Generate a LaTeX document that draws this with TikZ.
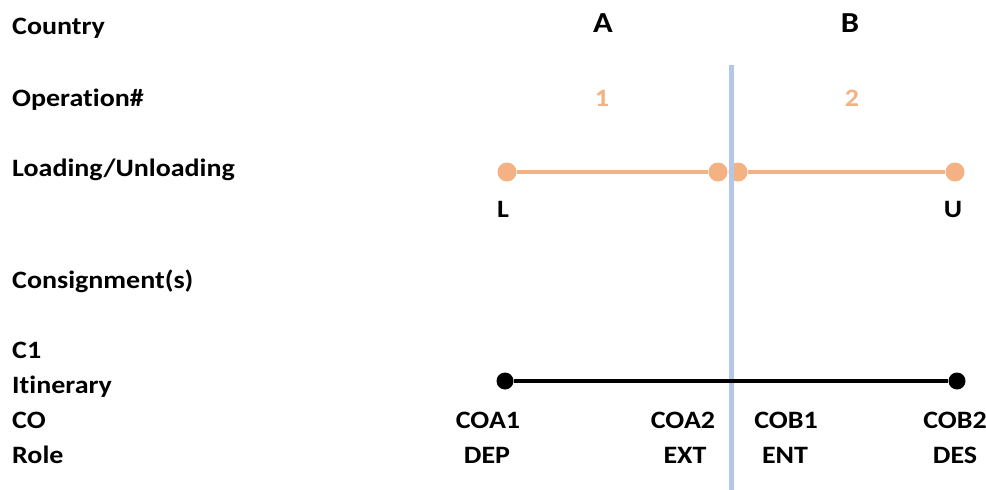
\documentclass[tikz,border=0pt]{standalone}
\usepackage{fontspec}
\setmainfont{Carlito}[FakeStretch=1.12,Ligatures=NoCommon]
\definecolor{orng}{HTML}{F4B183}
\definecolor{bluel}{HTML}{B4C7E7}
\begin{document}
\begin{tikzpicture}[x=1pt,y=-1pt,
  lab/.style={anchor=base west,inner sep=0pt,font=\fontsize{25}{29}\selectfont\bfseries},
  ctr/.style={anchor=base,inner sep=0pt,font=\fontsize{25}{29}\selectfont\bfseries},
  big/.style={anchor=base,inner sep=0pt,font=\fontsize{29}{33}\selectfont\bfseries},
  num/.style={anchor=base,inner sep=0pt,text=orng,font=\fontsize{25}{29}\selectfont\bfseries},
  odot/.style={circle,fill=orng,inner sep=0pt,minimum size=19pt},
  bdot/.style={circle,fill=black,inner sep=0pt,minimum size=17pt}]
\useasboundingbox (0,0) rectangle (986,490);
% row labels
\node[lab] (country) at (12,34) {Country};
\node[lab] (oper) at (12,106) {Operation\#};
\node[lab] (load) at (12,176) {Loading/Unloading};
\node[lab] (cons) at (12,288) {Consignment(s)};
\node[lab] (c1) at (12,358) {C1};
\node[lab] (itin) at (12,393) {Itinerary};
\node[lab] (co) at (12,428) {CO};
\node[lab] (role) at (12,463) {Role};
% countries
\node[big] (A) at (603,32) {A};
\node[big] (B) at (850,32) {B};
\node[num] (n1) at (602,106) {1};
\node[num] (n2) at (852,106) {2};
% loading line
\node[odot] (l1) at (507,172) {};
\node[odot] (l2) at (718,172) {};
\node[odot] (l3) at (738,172) {};
\node[odot] (l4) at (955,172) {};
\draw[orng,line width=4pt] (l1) -- (l2);
\draw[orng,line width=4pt] (l3) -- (l4);
\node[ctr] (L) at (503,217) {L};
\node[ctr] (U) at (953,217) {U};
% border
\coordinate (btop) at (731,65);
\coordinate (bbot) at (731,490);
\draw[bluel,line width=5pt] (btop) -- (bbot);
% itinerary
\node[bdot] (i1) at (505,381) {};
\node[bdot] (i2) at (957,381) {};
\draw[black,line width=3.5pt] (i1) -- (i2);
\node[ctr] (coa1) at (488,428) {COA1};
\node[ctr] (coa2) at (683,428) {COA2};
\node[ctr] (cob1) at (786,428) {COB1};
\node[ctr] (cob2) at (955,428) {COB2};
\node[ctr] (dep) at (487,463) {DEP};
\node[ctr] (ext) at (685,463) {EXT};
\node[ctr] (ent) at (785,463) {ENT};
\node[ctr] (des) at (955,463) {DES};
\end{tikzpicture}
\end{document}
